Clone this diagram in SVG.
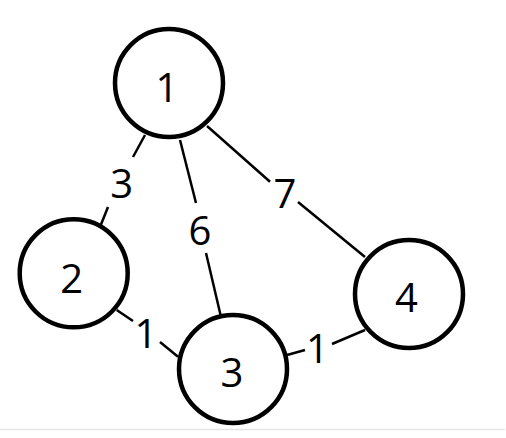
<svg xmlns="http://www.w3.org/2000/svg" width="506" height="438" viewBox="0 0 506 438">
<style>
.node circle{fill:#fff;stroke:#000;stroke-width:4.5}
.lbl{font-family:"Open Sans","Noto Sans",sans-serif;font-size:40px;fill:#000;text-anchor:middle}
#edges line{stroke:#000;stroke-width:2.5}
</style>
<rect width="506" height="438" fill="#fff"/>
<line x1="0" y1="429.5" x2="505" y2="429.5" stroke="#e5e5e5" stroke-width="1.5"/>
<g id="edges">
<line x1="145" y1="135" x2="133" y2="157"/><line x1="108" y1="207" x2="100" y2="227"/>
<line x1="180" y1="140" x2="196" y2="203"/><line x1="206" y1="253" x2="221" y2="317"/>
<line x1="207" y1="126" x2="270" y2="181.7"/><line x1="298" y1="202" x2="365" y2="257"/>
<line x1="116.7" y1="310" x2="133" y2="321"/><line x1="160" y1="342" x2="178" y2="356.7"/>
<line x1="287" y1="355" x2="305" y2="350"/><line x1="332" y1="344" x2="365" y2="330"/>
<text class="lbl" x="121.7" y="198">3</text>
<text class="lbl" x="200" y="245">6</text>
<text class="lbl" x="285" y="208">7</text>
<text class="lbl" x="146" y="348">1</text>
<text class="lbl" x="317.5" y="363">1</text>
</g>
<g id="node1" class="node"><circle cx="169" cy="83" r="54"/><text class="lbl" x="167" y="101.7">1</text></g>
<g id="node2" class="node"><circle cx="73.7" cy="273.3" r="54"/><text class="lbl" x="71.7" y="292.7">2</text></g>
<g id="node3" class="node"><circle cx="233" cy="369" r="54"/><text class="lbl" x="232" y="387">3</text></g>
<g id="node4" class="node"><circle cx="409" cy="294" r="54"/><text class="lbl" x="406.5" y="311.7">4</text></g>
</svg>
